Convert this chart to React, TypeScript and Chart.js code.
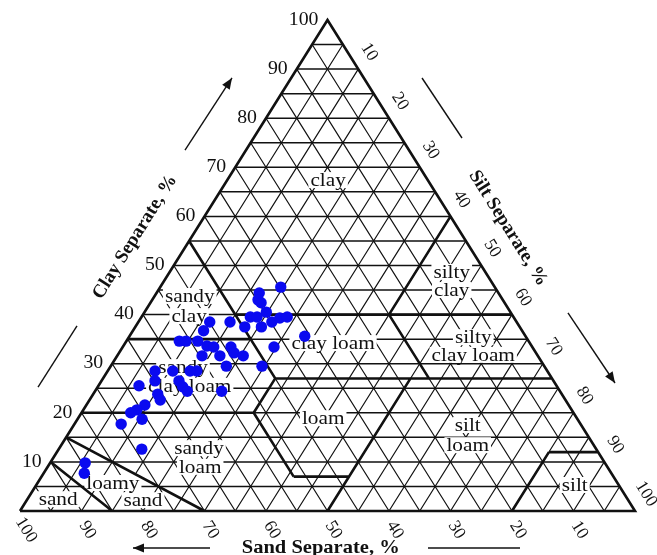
import { useEffect, useRef } from "react";
import { Chart, registerables } from "chart.js";

Chart.register(...registerables);

// ---- Sample data (sand %, clay %; silt = 100 - sand - clay) ----
const sandPct = [34.8, 38.9, 39.8, 39.6, 39.7, 42.8, 41.7, 39.8, 38.1, 36.8, 42.0, 44.7, 46.6, 49.9, 51.8, 35.9, 42.0, 45.9, 56.8, 55.7, 53.8, 52.8, 51.8, 49.0, 49.1, 47.9, 51.7, 54.6, 51.7, 57.0, 58.1, 60.9, 63.8, 64.8, 67.9, 60.9, 60.9, 60.6, 55.0, 65.7, 65.9, 68.9, 70.7, 70.8, 74.7, 73.9, 84.5, 85.7, 72.0];
const clayPct = [45.6, 44.4, 43.0, 42.4, 40.5, 39.5, 39.5, 38.5, 39.3, 39.5, 37.5, 37.5, 38.5, 38.5, 36.7, 35.6, 33.4, 29.5, 34.6, 34.6, 34.6, 33.6, 33.4, 33.4, 32.2, 31.6, 31.6, 31.6, 29.5, 28.5, 28.5, 28.5, 28.5, 26.5, 25.5, 26.5, 25.3, 24.4, 24.4, 23.8, 22.6, 21.6, 20.6, 18.7, 17.7, 12.6, 9.8, 7.7, 20.0];

// ---- Axis ticks ----
const clayTicks = [10, 20, 30, 40, 50, 60, 70, 80, 90, 100];
const siltTicks = [10, 20, 30, 40, 50, 60, 70, 80, 90, 100];
const sandTicks = [100, 90, 80, 70, 60, 50, 40, 30, 20, 10];
const gridStep = 5;

// ---- USDA texture class boundaries: [sand1, clay1, sand2, clay2] ----
const boundarySegments: [number, number, number, number][] = [
  [45, 55, 45, 27],
  [65, 35, 45, 35],
  [45, 40, 0, 40],
  [20, 40, 0, 60],
  [20, 40, 20, 27],
  [45, 27, 0, 27],
  [80, 20, 52, 20],
  [52, 20, 45, 27],
  [52, 20, 52, 7],
  [52, 7, 43, 7],
  [50, 0, 23, 27],
  [20, 0, 8, 12],
  [8, 12, 0, 12],
  [85, 0, 90, 10],
  [70, 0, 85, 15],
];

// ---- Class names and where they sit (layout coords: X = silt + clay/2, Y = clay) ----
const classLabels = ["clay", "sandy", "clay", "silty", "clay", "silty", "clay loam", "clay loam", "sandy", "clay loam", "loam", "silt", "loam", "sandy", "loam", "loamy", "sand", "sand", "silt"];
const classLabelAt: [number, number][] = [
  [50.1, 67.4], [27.6, 43.8], [27.5, 39.7], [70.2, 48.7], [70.2, 45.0],
  [73.7, 35.4], [73.7, 31.8], [50.9, 34.2], [26.5, 29.3], [27.6, 25.5],
  [49.3, 18.9], [72.8, 17.5], [72.8, 13.4], [29.1, 12.8], [29.3, 9.0],
  [15.1, 5.7], [20.0, 2.2], [6.2, 2.4], [90.2, 5.3],
];

const SERIF = '"Liberation Serif", "Times New Roman", serif';
const toXY = (sand: number, clay: number) => ({ x: 100 - sand - clay / 2, y: clay });

function buildGrid(horizontal: boolean) {
  const pts: any[] = [];
  for (let k = gridStep; k < 100; k += gridStep) {
    if (horizontal) {
      pts.push(toXY(100 - k, k), toXY(0, k), { x: 0, y: null });
    } else {
      pts.push(toXY(k, 0), toXY(k, 100 - k), { x: 0, y: null });
      pts.push(toXY(100 - k, 0), toXY(0, 100 - k), { x: 0, y: null });
    }
  }
  return pts;
}

function buildBoundaries() {
  const pts: any[] = [toXY(100, 0), toXY(0, 0), toXY(0, 100), toXY(100, 0), { x: 0, y: null }];
  for (const [s1, c1, s2, c2] of boundarySegments) {
    pts.push(toXY(s1, c1), toXY(s2, c2), { x: 0, y: null });
  }
  return pts;
}

function P(chart: any, X: number, Y: number): [number, number] {
  return [chart.scales.x.getPixelForValue(X), chart.scales.y.getPixelForValue(Y)];
}

function text(ctx: CanvasRenderingContext2D, t: string, x: number, y: number, font: string, angle = 0, sx = 1, align: CanvasTextAlign = "center") {
  ctx.save();
  ctx.translate(x, y);
  ctx.rotate(angle);
  ctx.scale(sx, 1);
  ctx.font = font;
  ctx.textAlign = align;
  ctx.textBaseline = "middle";
  ctx.fillStyle = "#111";
  ctx.fillText(t, 0, 0);
  ctx.restore();
}

function line(ctx: CanvasRenderingContext2D, a: [number, number], b: [number, number], arrow: boolean) {
  ctx.save();
  ctx.strokeStyle = "#111";
  ctx.fillStyle = "#111";
  ctx.lineWidth = 1.4;
  ctx.beginPath();
  ctx.moveTo(a[0], a[1]);
  ctx.lineTo(b[0], b[1]);
  ctx.stroke();
  if (arrow) {
    const ang = Math.atan2(b[1] - a[1], b[0] - a[0]);
    const L = 11, Wd = 4.5;
    ctx.beginPath();
    ctx.moveTo(b[0], b[1]);
    ctx.lineTo(b[0] - L * Math.cos(ang) + Wd * Math.sin(ang), b[1] - L * Math.sin(ang) - Wd * Math.cos(ang));
    ctx.lineTo(b[0] - L * Math.cos(ang) - Wd * Math.sin(ang), b[1] - L * Math.sin(ang) + Wd * Math.cos(ang));
    ctx.closePath();
    ctx.fill();
  }
  ctx.restore();
}

const EDGE_ANGLE = Math.atan2(491, 307.5);

const overlayPlugin = {
  id: "ternaryOverlay",
  afterDatasetDraw(chart: any, args: any) {
    if (args.index !== 2) return;
    const ctx: CanvasRenderingContext2D = chart.ctx;
    const font = `18.5px ${SERIF}`;
    const sx = 1.15;
    ctx.save();
    ctx.font = font;
    classLabels.forEach((t, i) => {
      const [x, y] = P(chart, classLabelAt[i][0], classLabelAt[i][1]);
      const w = ctx.measureText(t).width * sx;
      ctx.fillStyle = "#fff";
      ctx.fillRect(x - w / 2 - 2, y - 8, w + 4, 16);
    });
    ctx.restore();
    classLabels.forEach((t, i) => {
      const [x, y] = P(chart, classLabelAt[i][0], classLabelAt[i][1]);
      text(ctx, t, x, y + 1, font, 0, sx);
    });
  },
  afterDraw(chart: any) {
    const ctx: CanvasRenderingContext2D = chart.ctx;
    const tickFont = `18px ${SERIF}`;
    clayTicks.forEach((c) => {
      const [x, y] = P(chart, c / 2, c);
      text(ctx, String(c), x - 9, y, tickFont, 0, 1.1, "right");
    });
    siltTicks.forEach((k) => {
      const [x, y] = P(chart, 50 + k / 2, 100 - k);
      text(ctx, String(k), x + 11, y - 17, `17.5px ${SERIF}`, EDGE_ANGLE);
    });
    sandTicks.forEach((s) => {
      const [x, y] = P(chart, 100 - s, 0);
      text(ctx, String(s), x + 6, y + 19, `17.5px ${SERIF}`, EDGE_ANGLE);
    });
    const tf = `bold 19px ${SERIF}`;
    let [x, y] = P(chart, 18.7, 55.8);
    text(ctx, "Clay Separate, %", x, y, tf, -EDGE_ANGLE);
    [x, y] = P(chart, 79.35, 57.6);
    text(ctx, "Silt Separate, %", x, y, tf, EDGE_ANGLE);
    [x, y] = P(chart, 48.9, -7.54);
    text(ctx, "Sand Separate, %", x, y, tf, 0, 1.08);
    line(ctx, P(chart, 2.93, 25.25), P(chart, 9.27, 37.68), false);
    line(ctx, P(chart, 26.83, 73.52), P(chart, 34.47, 88.19), true);
    line(ctx, P(chart, 65.37, 88.19), P(chart, 71.87, 75.97), false);
    line(ctx, P(chart, 89.1, 40.33), P(chart, 96.75, 26.07), true);
    line(ctx, P(chart, 30.9, -7.54), P(chart, 18.37, -7.54), true);
    line(ctx, P(chart, 66.34, -7.54), P(chart, 81.3, -7.54), false);
  },
};

export default function App() {
  const ref = useRef<HTMLCanvasElement | null>(null);
  useEffect(() => {
    if (!ref.current) return;
    const chart = new Chart(ref.current, {
      type: "scatter",
      data: {
        datasets: [
          {
            label: "samples",
            data: sandPct.map((s, i) => toXY(s, clayPct[i])),
            backgroundColor: "#0a0af0",
            borderColor: "#0a0af0",
            pointRadius: 5.7,
            pointBorderWidth: 0,
            showLine: false,
          } as any,
          {
            label: "boundaries",
            data: buildBoundaries(),
            showLine: true,
            spanGaps: false,
            borderColor: "#111",
            borderWidth: 2.6,
            pointRadius: 0,
            clip: false,
          } as any,
          {
            label: "gridH",
            data: buildGrid(true),
            showLine: true,
            spanGaps: false,
            borderColor: "#111",
            borderWidth: 1.5,
            pointRadius: 0,
            clip: false,
          } as any,
          {
            label: "gridD",
            data: buildGrid(false),
            showLine: true,
            spanGaps: false,
            borderColor: "#111",
            borderWidth: 1.2,
            pointRadius: 0,
            clip: false,
          } as any,
        ],
      },
      options: {
        animation: false,
        responsive: false,
        maintainAspectRatio: false,
        layout: { padding: { left: 20, right: 22, top: 20, bottom: 44 } },
        scales: {
          x: { type: "linear", min: 0, max: 100, display: false },
          y: { type: "linear", min: 0, max: 100, display: false },
        },
        plugins: { legend: { display: false }, tooltip: { enabled: false } },
        events: [],
      },
      plugins: [overlayPlugin],
    });
    return () => chart.destroy();
  }, []);
  return (
    <div style={{ position: "fixed", left: 0, top: 0, width: 657, height: 555, background: "#fff" }}>
      <canvas ref={ref} width={657} height={555} style={{ display: "block" }} />
    </div>
  );
}
